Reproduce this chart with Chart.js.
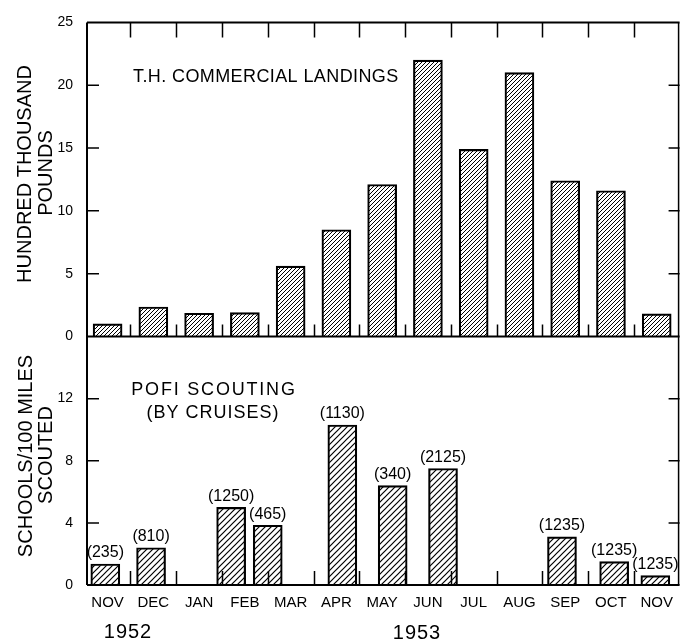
<!DOCTYPE html>
<html>
<head>
<meta charset="utf-8">
<script src="https://cdn.jsdelivr.net/npm/chart.js@4.4.0/dist/chart.umd.min.js"></script>
<style>
  html, body { margin: 0; padding: 0; background: #fff; }
</style>
</head>
<body>
<canvas id="myChart" width="682" height="640"></canvas>
<script>
// month slots along the bottom, Nov 1952 .. Nov 1953
const months = ["NOV", "DEC", "JAN", "FEB", "MAR", "APR", "MAY", "JUN", "JUL", "AUG", "SEP", "OCT", "NOV"];
// T.H. commercial landings, hundred thousand pounds
const landings = [1.0, 2.35, 1.85, 1.9, 5.6, 8.5, 12.1, 22.0, 14.9, 21.0, 12.4, 11.6, 1.8];
// POFI scouting cruises: position in month slots, schools/100 miles, miles scouted
const cruisePos = [-0.05, 0.95, 2.7, 3.5, 5.13, 6.23, 7.33, 9.93, 11.07, 11.97];
const cruiseSchools = [1.35, 2.4, 5.0, 3.85, 10.3, 6.4, 7.5, 3.1, 1.5, 0.6];
const cruiseMiles = [235, 810, 1250, 465, 1130, 340, 2125, 1235, 1235, 1235];
const landingTicks = [0, 5, 10, 15, 20, 25];
const scoutTicks = [0, 4, 8, 12, 16];

const FONT = "'Liberation Sans', Arial, sans-serif";
const ctx = document.getElementById("myChart").getContext("2d");

// diagonal "/" hatching, n = tile size
function hatch(n, w) {
    const c = document.createElement("canvas");
    c.width = n; c.height = n;
    const g = c.getContext("2d");
    g.strokeStyle = "#000";
    g.lineWidth = w;
    g.beginPath();
    g.moveTo(-1, n + 1); g.lineTo(n + 1, -1);
    g.moveTo(-1, 1); g.lineTo(1, -1);
    g.moveTo(n - 1, n + 1); g.lineTo(n + 1, n - 1);
    g.stroke();
    return ctx.createPattern(c, "repeat");
}

function text(c, str, x, y, size, align, spacing) {
    c.font = size + "px " + FONT;
    c.textAlign = align || "center";
    c.textBaseline = "middle";
    c.letterSpacing = (spacing || 0) + "px";
    c.fillText(str, x, y);
    c.letterSpacing = "0px";
}

function vtext(c, str, x, y, size) {
    c.save();
    c.translate(x, y);
    c.rotate(-Math.PI / 2);
    text(c, str, 0, 0, size, "center");
    c.restore();
}

const frame = {
    id: "frame",
    afterDatasetsDraw(chart) {
        const c = chart.ctx;
        const a = chart.chartArea;
        const x = chart.scales.x, yt = chart.scales.yTop, yb = chart.scales.yBot;
        const mid = yt.getPixelForValue(0);
        c.save();
        c.strokeStyle = "#000";
        c.fillStyle = "#000";

        // frame
        c.lineWidth = 2;
        c.beginPath();
        c.moveTo(a.left, a.top); c.lineTo(a.right, a.top);
        c.moveTo(a.left, a.top); c.lineTo(a.left, a.bottom);
        c.moveTo(a.left, mid); c.lineTo(a.right, mid);
        c.moveTo(a.left, a.bottom); c.lineTo(a.right, a.bottom);
        c.stroke();
        c.lineWidth = 1.5;
        c.beginPath();
        c.moveTo(a.right - 1, a.top); c.lineTo(a.right - 1, a.bottom);
        c.stroke();

        // month boundary ticks
        c.lineWidth = 1.5;
        c.beginPath();
        for (let i = 0; i < 12; i++) {
            const px = Math.round(x.getPixelForValue(i + 0.5)) + 0.5;
            c.moveTo(px, a.top); c.lineTo(px, a.top + 15);
            c.moveTo(px, mid); c.lineTo(px, mid - 12);
            c.moveTo(px, a.bottom); c.lineTo(px, a.bottom - 14);
        }
        // value ticks, left and right
        landingTicks.slice(1, -1).forEach(v => {
            const py = yt.getPixelForValue(v);
            c.moveTo(a.left, py); c.lineTo(a.left + 12, py);
            c.moveTo(a.right, py); c.lineTo(a.right - 11, py);
        });
        scoutTicks.slice(1, -1).forEach(v => {
            const py = yb.getPixelForValue(v);
            c.moveTo(a.left, py); c.lineTo(a.left + 12, py);
            c.moveTo(a.right, py); c.lineTo(a.right - 11, py);
        });
        c.stroke();

        // miles scouted above each cruise bar
        chart.getDatasetMeta(0).data.forEach((bar, i) => {
            c.font = "16px " + FONT;
            c.textAlign = "center";
            c.textBaseline = "bottom";
            c.fillText("(" + cruiseMiles[i] + ")", bar.x, bar.y - 3);
        });

        // panel captions
        text(c, "T.H. COMMERCIAL LANDINGS", 133, 77, 18, "left", 0.4);
        text(c, "POFI SCOUTING", 214, 390, 18, "center", 1.8);
        text(c, "(BY CRUISES)", 213, 413, 18, "center", 1);

        // axis titles
        vtext(c, "HUNDRED THOUSAND", 25, 174, 20);
        vtext(c, "POUNDS", 46, 173, 20);
        vtext(c, "SCHOOLS/100 MILES", 26, 456, 20);
        vtext(c, "SCOUTED", 46, 455, 20);

        // years
        text(c, "1952", 128, 632, 20, "center", 1);
        text(c, "1953", 417, 633, 20, "center", 1);
        c.restore();
    }
};

const barStyle = {
    borderColor: "#000",
    borderWidth: 1.5,
    barThickness: 29,
    grouped: false
};

new Chart(ctx, {
    type: "bar",
    data: {
        datasets: [
            Object.assign({
                data: cruisePos.map((p, i) => ({ x: p, y: cruiseSchools[i] })),
                yAxisID: "yBot",
                backgroundColor: hatch(6, 1.2)
            }, barStyle),
            Object.assign({
                data: landings.map((v, i) => ({ x: i, y: v })),
                yAxisID: "yTop",
                backgroundColor: hatch(4, 1)
            }, barStyle)
        ]
    },
    options: {
        responsive: false,
        animation: false,
        layout: { padding: { top: 19, right: 1, left: 0, bottom: 0 } },
        plugins: { legend: { display: false }, tooltip: { enabled: false } },
        scales: {
            x: {
                type: "linear",
                offset: false,
                min: -0.45,
                max: 12.5,
                grid: { display: false, drawTicks: false, offset: false },
                border: { display: false },
                afterBuildTicks: s => { s.ticks = months.map((m, i) => ({ value: i })); },
                afterFit: s => { s.height = 55; },
                ticks: {
                    callback: v => months[v],
                    color: "#000",
                    font: { family: FONT, size: 15 },
                    padding: 9,
                    autoSkip: false,
                    maxRotation: 0
                }
            },
            yBot: {
                type: "linear",
                position: "left",
                stack: "panels",
                stackWeight: 250,
                min: 0,
                max: 16,
                grid: { display: false, drawTicks: false },
                border: { display: false },
                afterBuildTicks: s => { s.ticks = scoutTicks.map(v => ({ value: v })); },
                afterFit: s => { s.width = 87; },
                ticks: {
                    callback: v => (v === 16 ? "" : v),
                    color: "#000",
                    font: { family: FONT, size: 14 },
                    padding: 14
                }
            },
            yTop: {
                type: "linear",
                position: "left",
                stack: "panels",
                stackWeight: 316,
                min: 0,
                max: 25,
                grid: { display: false, drawTicks: false },
                border: { display: false },
                afterBuildTicks: s => { s.ticks = landingTicks.map(v => ({ value: v })); },
                afterFit: s => { s.width = 87; },
                ticks: {
                    color: "#000",
                    font: { family: FONT, size: 14 },
                    padding: 14
                }
            }
        }
    },
    plugins: [frame]
});
</script>
</body>
</html>
